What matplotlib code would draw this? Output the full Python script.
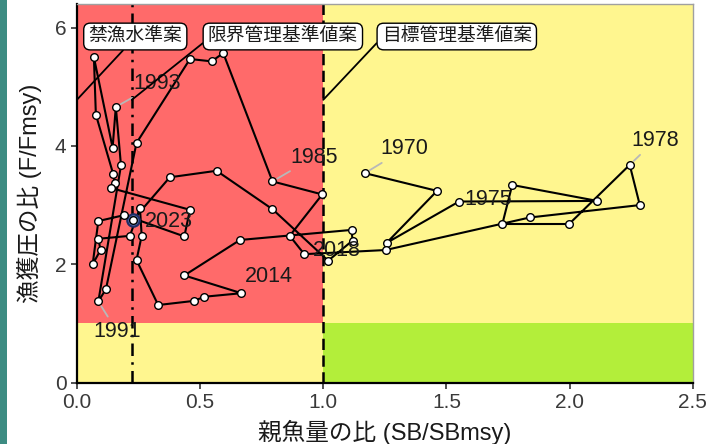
import matplotlib
matplotlib.use('Agg')
import matplotlib.pyplot as plt
from matplotlib.patches import Rectangle

plt.rcParams['font.family'] = ['Liberation Sans', 'Noto Sans CJK JP', 'DejaVu Sans']

# trajectory, 1970-2023
years = list(range(1970, 2024))
sb_ratio = [1.169, 1.462, 1.257, 1.551, 2.113, 1.767, 1.727, 1.998, 2.244, 2.285,
            1.838, 1.253, 0.923, 0.864, 0.996, 0.794, 0.594, 0.547, 0.459, 0.242,
            0.118, 0.087, 0.179, 0.158, 0.145, 0.069, 0.077, 0.147, 0.154, 0.137,
            0.459, 0.436, 0.192, 0.087, 0.064, 0.096, 0.087, 0.215, 0.256, 0.263,
            0.242, 0.330, 0.475, 0.517, 0.668, 0.436, 0.662, 1.115, 1.119, 1.020,
            0.794, 0.567, 0.377, 0.226]
f_ratio = [3.54, 3.24, 2.36, 3.06, 3.07, 3.34, 2.68, 2.68, 3.68, 3.00,
           2.79, 2.24, 2.17, 2.48, 3.18, 3.40, 5.57, 5.43, 5.47, 4.05,
           1.58, 1.37, 3.67, 4.66, 3.97, 5.50, 4.53, 3.53, 3.38, 3.29,
           2.92, 2.47, 2.83, 2.73, 2.00, 2.24, 2.43, 2.48, 2.95, 2.48,
           2.07, 1.31, 1.38, 1.45, 1.51, 1.81, 2.41, 2.58, 2.40, 2.06,
           2.93, 3.58, 3.47, 2.74]

label_years = [1970, 1975, 1978, 1985, 1991, 1993, 2014, 2018, 2023]
ref_names = ['禁漁水準案', '限界管理基準値案', '目標管理基準値案']
ref_sb = [0.0, 0.223, 1.0]

# where the year labels sit, and whether they get a leader
label_pos = {1970: (1.331, 3.95, True), 1975: (1.668, 3.09, False),
             1978: (2.346, 4.09, True), 1985: (0.962, 3.81, True),
             1991: (0.162, 0.87, True), 1993: (0.325, 5.05, True),
             2014: (0.779, 1.80, False), 2018: (1.055, 2.24, False),
             2023: (0.373, 2.72, False)}
ref_box_pos = [(0.237, 5.85), (0.836, 5.85), (1.542, 5.85)]
ref_relpos = [(0.42, 0.0), (0.0, 0.35), (0.0, 0.43)]

xmax, ymax = 2.5, 6.4

fig = plt.figure(figsize=(7.12, 4.44), dpi=100)
fig.add_artist(Rectangle((0, 0), 7 / 712, 1, transform=fig.transFigure,
                         color='#3d8c82', lw=0))
ax = fig.add_axes([0.108, 0.1385, 0.865, 0.8525])

red, yellow, green = '#FF6A6A', '#FFF68F', '#B3EE3A'
ax.fill_between([0, 1], 1, ymax, color=red, lw=0, zorder=0)
ax.fill_between([0, 1], 0, 1, color=yellow, lw=0, zorder=0)
ax.fill_between([1, xmax], 1, ymax, color=yellow, lw=0, zorder=0)
ax.fill_between([1, xmax], 0, 1, color=green, lw=0, zorder=0)

ax.axvline(ref_sb[2], color='black', lw=1.8, ls=(0, (4.5, 2.2)), zorder=1)
ax.axvline(ref_sb[1], color='black', lw=1.8, ls=(0, (5, 2.5, 1, 2.5)), zorder=1)

ax.plot(sb_ratio, f_ratio, color='black', lw=1.5, zorder=3)
ax.plot(sb_ratio[-1], f_ratio[-1], 'o', ms=9, mfc='#5470b0', mec='#1f2d66',
        mew=1.5, zorder=3.5)
ax.plot(sb_ratio, f_ratio, 'o', ms=5.5, mfc='white', mec='black', mew=1,
        lw=0, zorder=4)

for yr in label_years:
    i = years.index(yr)
    tx, ty, seg = label_pos[yr]
    if seg:
        ax.annotate(str(yr), xy=(sb_ratio[i], f_ratio[i]), xytext=(tx, ty),
                    ha='center', va='center', fontsize=15.5, color='#1a1a1a',
                    arrowprops=dict(arrowstyle='-', color='#b8b8b8', lw=1.3,
                                    shrinkA=1, shrinkB=4), zorder=5)
    else:
        ax.text(tx, ty, str(yr), ha='center', va='center', fontsize=15.5,
                color='#1a1a1a', zorder=5)

box = dict(boxstyle='round,pad=0.25,rounding_size=0.35', fc='white',
           ec='black', lw=1)
for name, xr, pos, rp in zip(ref_names, ref_sb, ref_box_pos, ref_relpos):
    ax.annotate(name, xy=(xr, 4.78), xytext=pos, ha='center', va='center',
                fontsize=13.5, color='#1a1a1a', bbox=box, annotation_clip=False,
                arrowprops=dict(arrowstyle='-', color='black', lw=1.3,
                                shrinkA=0, shrinkB=0, relpos=rp), zorder=6)

ax.set_xlim(0, xmax)
ax.set_ylim(0, ymax)
ax.set_xticks([0.0, 0.5, 1.0, 1.5, 2.0, 2.5])
ax.set_xticklabels(['0.0', '0.5', '1.0', '1.5', '2.0', '2.5'])
ax.set_yticks([0, 2, 4, 6])
ax.tick_params(labelsize=15, labelcolor='#3a3a3a', color='#333333',
               length=4, width=1.2)
for s in ['left', 'bottom']:
    ax.spines[s].set_color('black')
    ax.spines[s].set_linewidth(1.6)
for s in ['top', 'right']:
    ax.spines[s].set_color('#a0a0a0')
    ax.spines[s].set_linewidth(1)

fig.text(30 / 712, 1 - 193 / 444, '漁獲圧の比 (F/Fmsy)', rotation=90,
         ha='center', va='center', fontsize=17, color='#1a1a1a')
fig.text(385 / 712, 1 - 432 / 444, '親魚量の比 (SB/SBmsy)', ha='center',
         va='center', fontsize=17, color='#1a1a1a')

fig.savefig('out.png', dpi=100)
